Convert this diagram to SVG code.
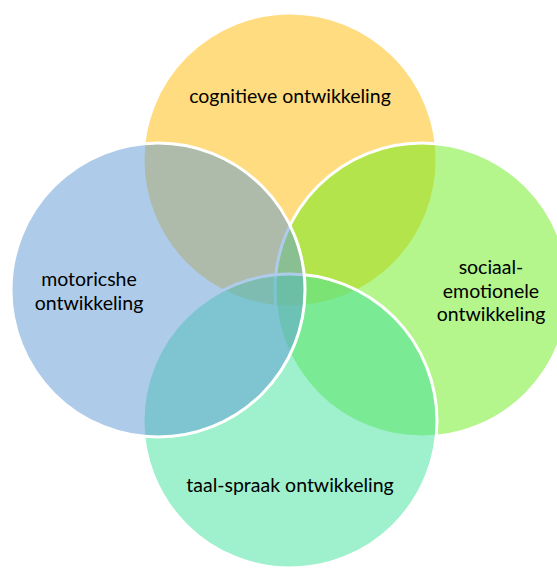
<svg xmlns="http://www.w3.org/2000/svg" width="557" height="568" viewBox="0 0 557 568">
<style>
.c{stroke:#FFFFFF;stroke-width:3;fill-opacity:0.5}
.t{font-family:Lato,"Open Sans",sans-serif;font-size:19.5px;fill:#000000;text-anchor:middle}
</style>
<rect width="557" height="568" fill="#FFFFFF"/>
<g id="node-cognitief">
<circle class="c" cx="290" cy="160" r="147" fill="#FFB900"/>
<text class="t" x="290" y="103">cognitieve ontwikkeling</text>
</g>
<g id="node-sociaal">
<circle class="c" cx="422" cy="290" r="147" fill="#69EB19"/>
<text class="t" x="491" y="274">sociaal-</text>
<text class="t" x="491" y="298">emotionele</text>
<text class="t" x="491" y="321">ontwikkeling</text>
</g>
<g id="node-taal">
<circle class="c" cx="290" cy="421" r="147" fill="#3FE19B"/>
<text class="t" x="290" y="492">taal-spraak ontwikkeling</text>
</g>
<g id="node-motoriek">
<circle class="c" cx="158" cy="290" r="147" fill="#5D99D5"/>
<text class="t" x="89" y="286">motoricshe</text>
<text class="t" x="89" y="310">ontwikkeling</text>
</g>
</svg>
